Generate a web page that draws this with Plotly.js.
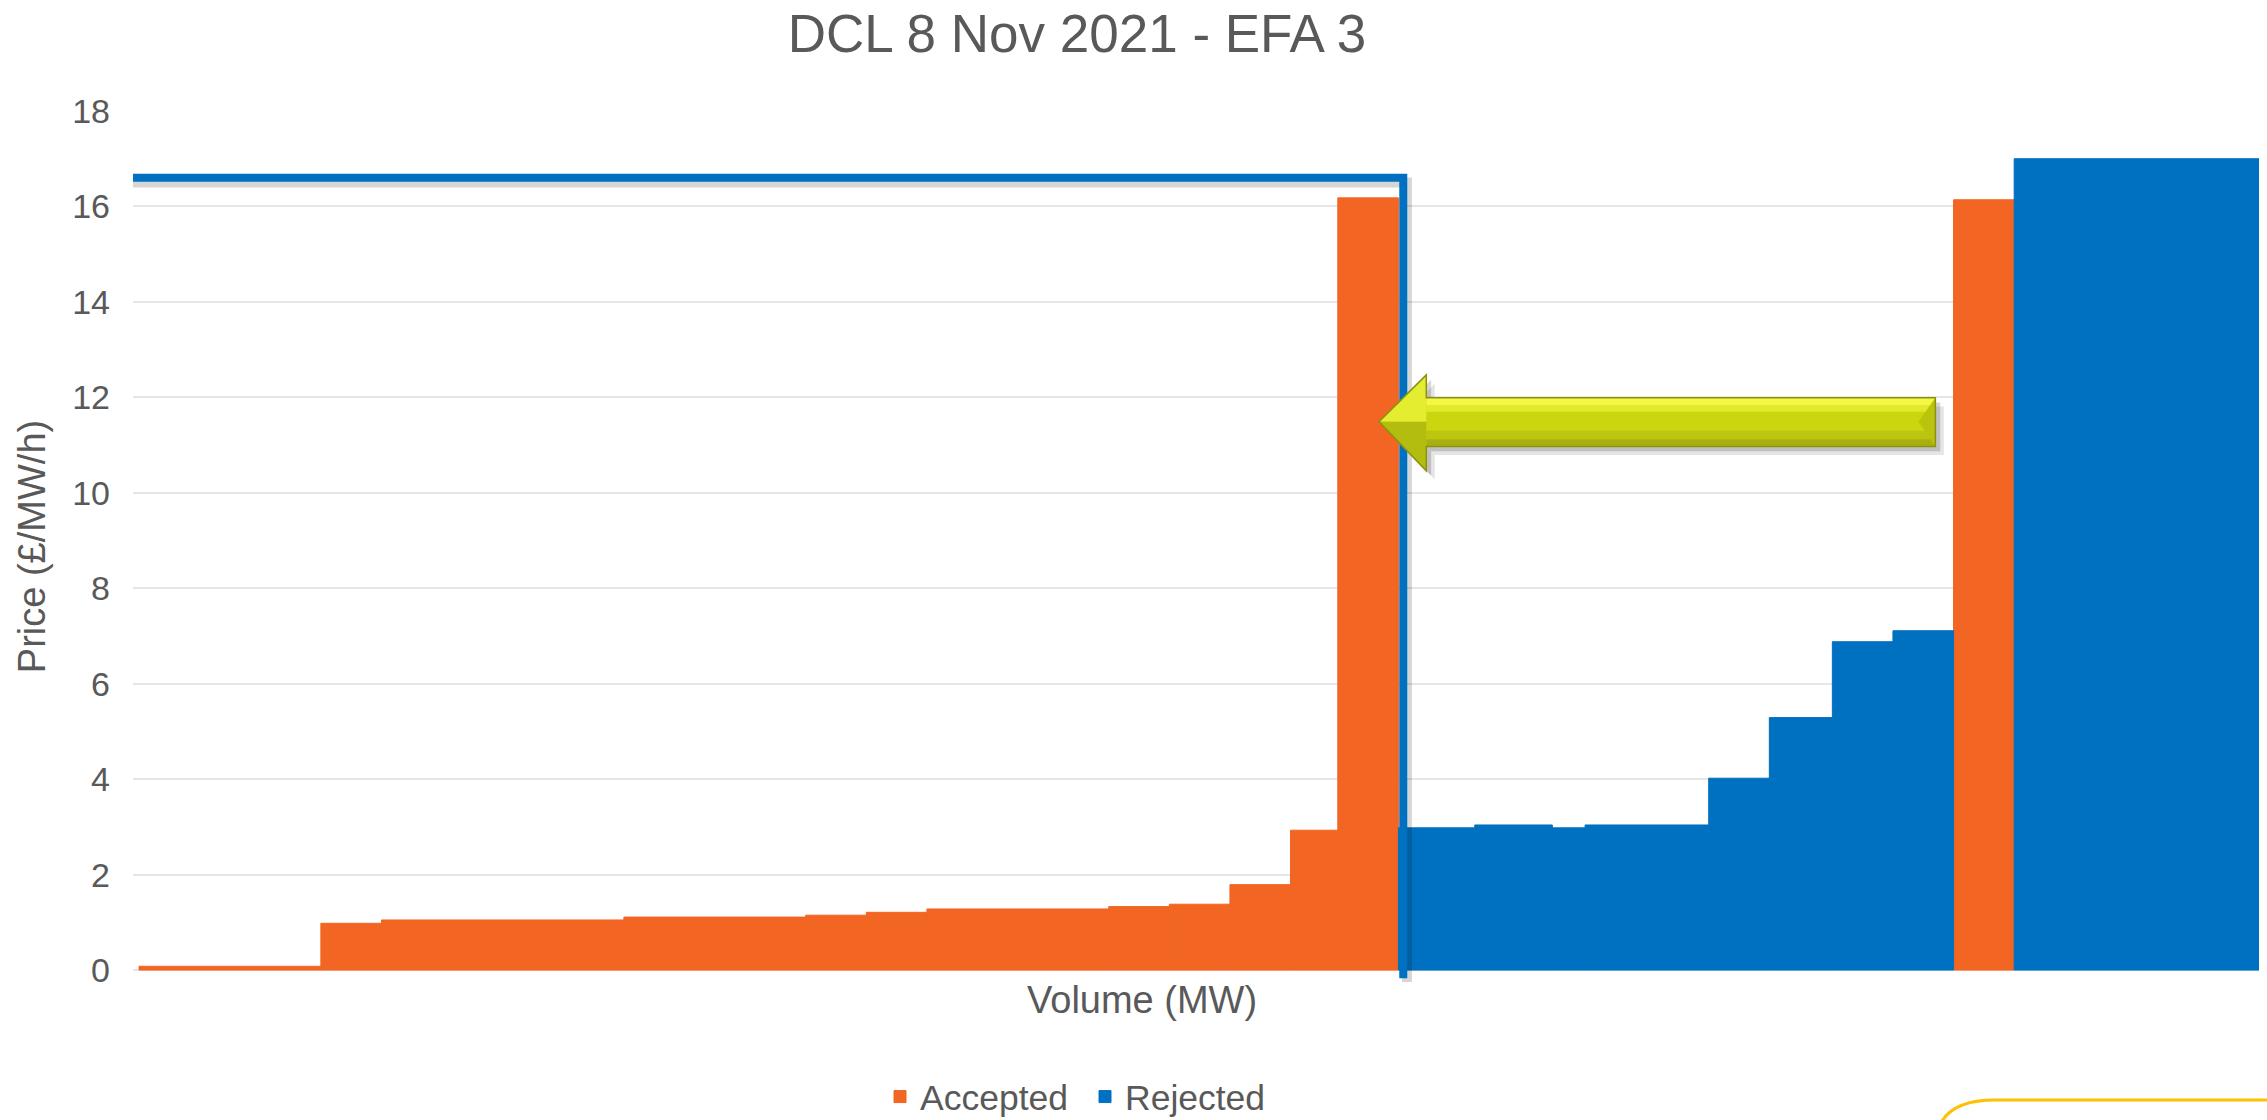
<!DOCTYPE html>
<html>
<head>
<meta charset="utf-8">
<script src="https://cdn.plot.ly/plotly-3.0.1.min.js"></script>
<style>
  html, body { margin: 0; padding: 0; background: #ffffff; overflow: hidden; }
  #chart { width: 2267px; height: 1120px; }
</style>
</head>
<body>
<div id="chart"></div>
<script>
// Dynamic Containment Low bid stack, EFA block 3, 8 Nov 2021 (merit order, left to right)
const bidVolumes = [150, 50, 200, 150, 50, 50, 150, 50, 50, 50, 39, 50,
                    63, 64, 27, 102, 50, 52, 50, 50,
                    50, 202];
const bidPrices  = [0.08, 0.98, 1.05, 1.11, 1.15, 1.21, 1.28, 1.33, 1.38, 1.79, 2.93, 16.18,
                    2.98, 3.04, 2.98, 3.04, 4.02, 5.29, 6.88, 7.11,
                    16.14, 17.0];
const bidStatus  = ['Accepted', 'Accepted', 'Accepted', 'Accepted', 'Accepted', 'Accepted',
                    'Accepted', 'Accepted', 'Accepted', 'Accepted', 'Accepted', 'Accepted',
                    'Rejected', 'Rejected', 'Rejected', 'Rejected', 'Rejected', 'Rejected',
                    'Rejected', 'Rejected',
                    'Accepted', 'Rejected'];
const seriesNames  = ['Accepted', 'Rejected'];
const seriesColors = ['#F26522', '#0070C0'];
const cutoffPrice  = 16.6;
const yTicks       = [0, 2, 4, 6, 8, 10, 12, 14, 16, 18];

const FONT = 'Liberation Sans, Arial, Helvetica, sans-serif';
const GREY = '#595959';

// cumulative volume: each bid is a bar whose width is its volume
const starts = [];
let acc = 0;
bidVolumes.forEach(v => { starts.push(acc); acc += v; });
const totalVolume = acc;

// volume of the first (contiguous) accepted block
let acceptedEnd = 0;
for (let i = 0; i < bidStatus.length && bidStatus[i] === 'Accepted'; i++) {
  acceptedEnd += bidVolumes[i];
}

const traces = seriesNames.map((name, s) => {
  const idx = bidStatus.map((st, i) => st === name ? i : -1).filter(i => i >= 0);
  return {
    type: 'bar',
    name: name,
    x: idx.map(i => starts[i] + bidVolumes[i] / 2),
    width: idx.map(i => bidVolumes[i]),
    y: idx.map(i => bidPrices[i]),
    marker: { color: seriesColors[s], line: { width: 1, color: seriesColors[s] } },
    hoverinfo: 'skip'
  };
});

// plot box in pixels, used for paper-referenced decoration
const M = { l: 133, r: 8, t: 111, b: 138, autoexpand: false };
const W = 2267, H = 1120;
const PW = W - M.l - M.r, PH = H - M.t - M.b;
const px = x => (x - M.l) / PW;
const py = y => (H - M.b - y) / PH;

function poly(pts) {
  return 'M' + pts.map(p => p[0] + ',' + p[1]).join('L') + 'Z';
}

const shapes = [];

// bracket marking the accepted volume up to the cut-off price
const lineX = acceptedEnd + 4;
const bracket = [[-8, cutoffPrice], [lineX, cutoffPrice], [lineX, -0.17]];
shapes.push({
  type: 'path', xref: 'x', yref: 'y',
  path: 'M' + bracket.map(p => (p[0] + 3) + ',' + (p[1] - 0.1)).join('L'),
  line: { color: 'rgba(0,0,0,0.16)', width: 10 }
});
shapes.push({
  type: 'path', xref: 'x', yref: 'y',
  path: 'M' + bracket.map(p => p[0] + ',' + p[1]).join('L'),
  line: { color: '#0070C0', width: 8 }
});

// left-pointing 3D arrow towards the marginal accepted bid
const tipX = acceptedEnd - 16, backX = acceptedEnd + 23, endX = acceptedEnd + 443;
const midY = 11.49, headTop = 12.47, headBot = 10.46, shaftTop = 11.99, shaftBot = 10.97;
const arrowPts = [[tipX, midY], [backX, headTop], [backX, shaftTop], [endX, shaftTop],
                  [endX, shaftBot], [backX, shaftBot], [backX, headBot]];
shapes.push({ type: 'path', xref: 'x', yref: 'y',
  path: poly(arrowPts.map(p => [p[0] + 7, p[1] - 0.18])),
  fillcolor: 'rgba(0,0,0,0.10)', line: { width: 0 } });
shapes.push({ type: 'path', xref: 'x', yref: 'y',
  path: poly(arrowPts.map(p => [p[0] + 4, p[1] - 0.1])),
  fillcolor: 'rgba(0,0,0,0.16)', line: { width: 0 } });
shapes.push({ type: 'path', xref: 'x', yref: 'y', path: poly(arrowPts),
  fillcolor: '#CBD60F', line: { width: 0 } });
const bands = [
  [shaftTop, 11.84, '#F4F845'],
  [11.84, 11.70, '#E2EA2C'],
  [11.30, 11.12, '#BCC610'],
  [11.12, shaftBot, '#A7B00E']
];
bands.forEach(b => shapes.push({ type: 'path', xref: 'x', yref: 'y',
  path: poly([[backX, b[0]], [endX, b[0]], [endX, b[1]], [backX, b[1]]]),
  fillcolor: b[2], line: { width: 0 } }));
shapes.push({ type: 'path', xref: 'x', yref: 'y',
  path: poly([[tipX, midY], [backX, headTop], [backX, midY]]),
  fillcolor: '#E5ED30', line: { width: 0 } });
shapes.push({ type: 'path', xref: 'x', yref: 'y',
  path: poly([[tipX, midY], [backX, midY], [backX, headBot]]),
  fillcolor: '#B3BD10', line: { width: 0 } });
shapes.push({ type: 'path', xref: 'x', yref: 'y',
  path: poly([[endX - 14, midY], [endX, shaftTop], [endX, shaftBot]]),
  fillcolor: '#BAC40F', line: { width: 0 } });
shapes.push({ type: 'path', xref: 'x', yref: 'y', path: poly(arrowPts),
  fillcolor: 'rgba(0,0,0,0)', line: { color: '#8A930F', width: 1.5 } });

// corner of a callout box at the bottom right
shapes.push({
  type: 'path', xref: 'paper', yref: 'paper',
  path: 'M' + px(1936) + ',' + py(1140) +
        ' Q' + px(1940) + ',' + py(1100) + ' ' + px(1995) + ',' + py(1100) +
        ' L' + px(2280) + ',' + py(1100),
  line: { color: '#FFC000', width: 3 }
});

const layout = {
  width: W, height: H,
  margin: M,
  paper_bgcolor: '#ffffff',
  plot_bgcolor: '#ffffff',
  barmode: 'overlay',
  font: { family: FONT, color: GREY },
  title: {
    text: 'DCL 8 Nov 2021 - EFA 3',
    font: { family: FONT, size: 53, color: GREY },
    xref: 'container', x: 1077 / W, xanchor: 'center',
    yref: 'container', y: 1 - 33 / H, yanchor: 'middle'
  },
  xaxis: {
    range: [-5, totalVolume],
    showticklabels: false, showgrid: false, zeroline: false, showline: false, ticks: ''
  },
  yaxis: {
    range: [-0.25, 18],
    tickvals: yTicks,
    ticktext: yTicks.map(String),
    tickfont: { family: FONT, size: 34, color: GREY },
    ticks: '', ticklabelstandoff: 22,
    showgrid: true, gridcolor: '#E6E6E6', gridwidth: 2,
    zeroline: false, showline: false,
    title: { text: 'Price (£/MW/h)', font: { family: FONT, size: 38, color: GREY }, standoff: 14 }
  },
  annotations: [{
    text: 'Volume (MW)', showarrow: false,
    xref: 'paper', yref: 'paper', x: px(1142), y: py(1000),
    xanchor: 'center', yanchor: 'middle',
    font: { family: FONT, size: 38, color: GREY }
  }],
  legend: {
    orientation: 'h', x: px(880), xanchor: 'left', y: py(1097), yanchor: 'middle',
    font: { family: FONT, size: 35.5, color: GREY },
    entrywidth: 160, entrywidthmode: 'pixels',
    bgcolor: 'rgba(0,0,0,0)', traceorder: 'normal'
  },
  shapes: shapes,
  showlegend: true
};

Plotly.newPlot('chart', traces, layout, { staticPlot: true, displayModeBar: false });
</script>
</body>
</html>
